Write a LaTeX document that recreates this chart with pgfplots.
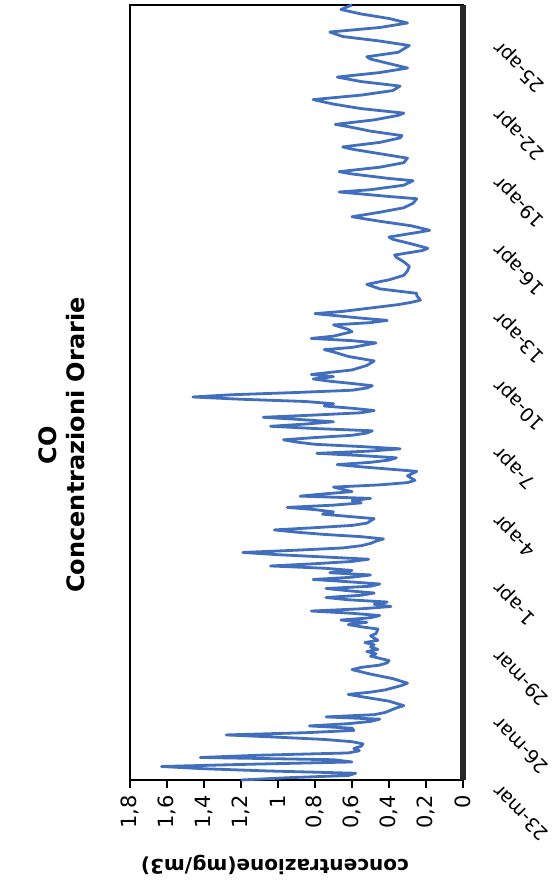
\documentclass[border=0pt]{standalone}
\usepackage{graphicx}
\usepackage{fontspec}
\setmainfont{DejaVu Sans}
\usepackage{pgfplots}
\pgfplotsset{compat=1.18}
\definecolor{coline}{RGB}{66,110,190}

% CO hourly concentration, days since 23-mar 00:00
\pgfplotstableread{
d v
0.00 1.20
0.10 0.95
0.20 0.62
0.30 0.58
0.40 1.05
0.50 1.40
0.60 1.63
0.70 1.15
0.80 0.60
0.90 0.70
1.00 1.42
1.10 1.10
1.20 0.62
1.30 0.56
1.40 0.59
1.50 0.55
1.60 0.54
1.70 0.60
1.80 0.75
1.90 1.00
2.00 1.28
2.10 0.85
2.20 0.59
2.30 0.60
2.40 0.83
2.50 0.62
2.60 0.50
2.70 0.45
2.80 0.74
2.90 0.48
3.00 0.42
3.20 0.36
3.30 0.32
3.50 0.40
3.70 0.55
3.80 0.62
3.90 0.50
4.00 0.42
4.20 0.33
4.30 0.30
4.50 0.38
4.70 0.50
4.90 0.60
5.00 0.55
5.10 0.45
5.20 0.41
5.30 0.40
5.50 0.50
5.60 0.47
5.70 0.52
5.80 0.46
5.90 0.50
6.00 0.48
6.10 0.53
6.20 0.46
6.40 0.50
6.50 0.47
6.70 0.46
6.80 0.55
6.90 0.62
7.00 0.52
7.10 0.66
7.20 0.50
7.30 0.45
7.40 0.60
7.50 0.82
7.60 0.55
7.70 0.39
7.80 0.48
7.90 0.41
8.00 0.62
8.10 0.74
8.20 0.55
8.30 0.48
8.40 0.62
8.50 0.74
8.60 0.50
8.70 0.45
8.80 0.62
8.90 0.81
9.00 0.60
9.10 0.50
9.20 0.72
9.30 0.60
9.40 0.75
9.50 1.04
9.60 0.80
9.70 0.60
9.80 0.51
9.90 0.75
10.00 1.00
10.10 1.19
10.20 0.90
10.30 0.65
10.40 0.55
10.50 0.50
10.60 0.47
10.70 0.43
10.80 0.55
10.90 0.75
11.00 0.90
11.10 1.02
11.20 0.80
11.30 0.60
11.40 0.52
11.50 0.50
11.60 0.48
11.70 0.62
11.80 0.76
11.90 0.70
12.00 0.80
12.10 0.95
12.20 0.70
12.30 0.55
12.40 0.60
12.50 0.50
12.60 0.88
12.70 0.75
12.80 0.60
12.90 0.65
13.00 0.70
13.10 0.45
13.20 0.30
13.30 0.26
13.50 0.30
13.70 0.25
13.80 0.40
13.90 0.55
14.00 0.68
14.10 0.50
14.20 0.40
14.30 0.36
14.40 0.55
14.50 0.79
14.60 0.50
14.70 0.34
14.80 0.55
14.90 0.80
15.00 0.90
15.10 0.97
15.20 0.80
15.30 0.60
15.40 0.52
15.50 0.49
15.60 0.80
15.70 1.04
15.80 0.85
15.90 0.70
16.00 0.88
16.10 1.08
16.20 0.80
16.30 0.55
16.40 0.48
16.50 0.60
16.60 0.75
16.70 0.70
16.80 0.85
16.90 1.20
17.00 1.46
17.10 1.25
17.20 0.90
17.30 0.60
17.40 0.52
17.50 0.49
17.60 0.60
17.70 0.72
17.80 0.81
17.90 0.70
18.00 0.82
18.20 0.60
18.40 0.52
18.60 0.48
18.80 0.62
19.00 0.70
19.10 0.75
19.20 0.60
19.40 0.47
19.50 0.60
19.60 0.82
19.70 0.70
19.80 0.65
19.90 0.60
20.00 0.62
20.20 0.70
20.30 0.50
20.40 0.41
20.50 0.55
20.70 0.80
20.80 0.65
20.90 0.55
21.00 0.45
21.10 0.35
21.20 0.28
21.30 0.23
21.50 0.25
21.60 0.25
21.70 0.35
21.80 0.45
22.00 0.52
22.20 0.40
22.40 0.32
22.60 0.30
22.80 0.29
23.00 0.32
23.20 0.36
23.30 0.37
23.50 0.22
23.60 0.19
23.80 0.28
24.00 0.38
24.10 0.40
24.30 0.25
24.40 0.18
24.60 0.28
24.80 0.45
25.00 0.60
25.20 0.45
25.40 0.32
25.60 0.27
25.80 0.25
25.90 0.40
26.10 0.67
26.20 0.50
26.40 0.32
26.60 0.27
26.70 0.40
26.90 0.60
27.00 0.67
27.20 0.45
27.40 0.32
27.60 0.30
27.80 0.45
28.00 0.60
28.10 0.65
28.30 0.45
28.50 0.34
28.60 0.33
28.80 0.50
29.00 0.62
29.10 0.69
29.30 0.48
29.50 0.35
29.60 0.32
29.80 0.55
30.00 0.70
30.20 0.81
30.40 0.55
30.60 0.38
30.80 0.34
31.00 0.55
31.20 0.68
31.40 0.45
31.60 0.30
31.80 0.40
32.00 0.50
32.10 0.52
32.30 0.35
32.60 0.29
32.80 0.45
33.00 0.65
33.20 0.72
33.40 0.45
33.60 0.30
33.80 0.40
34.00 0.55
34.20 0.66
34.40 0.60
}\codata

\begin{document}
\rotatebox{90}{%
\begin{tikzpicture}
\path[use as bounding box] (-56pt,-44.5pt) rectangle (390pt,231.5pt);
\begin{axis}[
  at={(0,0)}, anchor=south west,
  scale only axis, width=387.5pt, height=166.5pt,
  xmin=0, xmax=34.4, ymin=0, ymax=1.8,
  xtick={0,3,...,33},
  xticklabels={23-mar,26-mar,29-mar,1-apr,4-apr,7-apr,10-apr,13-apr,16-apr,19-apr,22-apr,25-apr},
  x tick label style={xshift=-7pt, yshift=-5pt, rotate=45, anchor=north east, font=\fontsize{9.5}{11}\selectfont},
  ytick={0,0.2,...,1.8},
  y tick label style={font=\fontsize{10.5}{12}\selectfont},
  /pgf/number format/use comma,
  /pgf/number format/assume math mode=true,
  tick align=outside, major tick length=4pt,
  xtick style={draw=none},
  ytick pos=left,
  axis line style={line width=0.6pt},
  tick style={line width=0.6pt, black},
  clip=false,
]
\addplot[coline, line width=1.4pt, line join=round] table[x=d, y=v] {\codata};
\draw[line width=3pt, black!85] (axis cs:0,0) -- (axis cs:34.4,0);
\end{axis}
\node[font=\bfseries\fontsize{12}{14}\selectfont, align=center] at (167.5pt,200.5pt) {CO\\Concentrazioni Orarie};
\node[font=\bfseries\fontsize{10}{12}\selectfont, rotate=90] at (-42.5pt,94pt) {concentrazione(mg/m3)};
\end{tikzpicture}}
\end{document}
